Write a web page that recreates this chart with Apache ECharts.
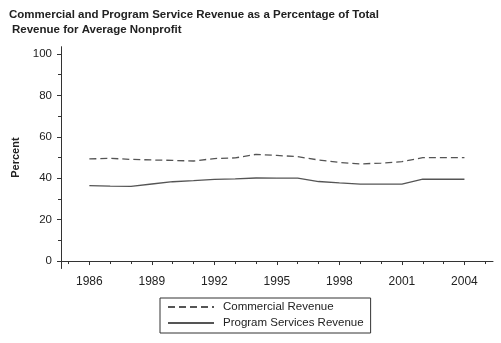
<!DOCTYPE html>
<html>
<head>
<meta charset="utf-8">
<script src="https://cdn.jsdelivr.net/npm/echarts@6/dist/echarts.min.js"></script>
<style>
  html, body { margin: 0; padding: 0; background: #fff; }
  #chart { width: 501px; height: 343px; }
</style>
</head>
<body>
<div id="chart"></div>
<script>
// Share of total revenue for the average nonprofit, by year
const years = [1986, 1987, 1988, 1989, 1990, 1991, 1992, 1993, 1994, 1995,
               1996, 1997, 1998, 1999, 2000, 2001, 2002, 2003, 2004];
const commercialRevenue = [49.3, 49.6, 49.1, 48.8, 48.6, 48.3, 49.5, 49.8, 51.5, 51.0,
                           50.4, 48.8, 47.6, 46.9, 47.3, 48.0, 49.9, 49.9, 49.9];
const programServicesRevenue = [36.4, 36.2, 36.1, 37.2, 38.3, 38.8, 39.4, 39.7, 40.1, 40.0,
                                40.0, 38.4, 37.7, 37.1, 37.1, 37.1, 39.5, 39.5, 39.5];

const xLabelYears = [1986, 1989, 1992, 1995, 1998, 2001, 2004];
const xMinorYears = [1985, 1987, 1988, 1990, 1991, 1993, 1994, 1996, 1997, 1999, 2000, 2002, 2003, 2005];
const yLabelValues = [0, 20, 40, 60, 80, 100];
const yMinorValues = [10, 30, 50, 70, 90];

const titleLine1 = 'Commercial and Program Service Revenue as a Percentage of Total';
const titleLine2 = 'Revenue for Average Nonprofit';

const ink = '#333';
const lineInk = '#555';
const font = 'Liberation Sans, Arial, sans-serif';

const xMin = 1984.64, xMax = 2005.37;
const yMin = -3.6, yMax = 103.5;

const chart = echarts.init(document.getElementById('chart'), null, { renderer: 'canvas' });

chart.setOption({
  backgroundColor: '#fff',
  animation: false,
  textStyle: { fontFamily: font },
  title: [
    { text: titleLine1, left: 9, top: 9, padding: 0,
      textStyle: { fontSize: 11.5, fontWeight: 'bold', color: '#222', fontFamily: font } },
    { text: titleLine2, left: 12, top: 24, padding: 0,
      textStyle: { fontSize: 11.5, fontWeight: 'bold', color: '#222', fontFamily: font } }
  ],
  grid: { left: 61, right: 8, top: 46.7, bottom: 74.5, containLabel: false },
  xAxis: [
    {
      type: 'value', min: xMin, max: xMax, position: 'bottom',
      axisLine: { show: true, lineStyle: { color: ink, width: 1 } },
      axisTick: { show: true, length: 4, customValues: xLabelYears, lineStyle: { color: ink } },
      axisLabel: { show: true, customValues: xLabelYears, margin: 7, color: '#222', fontSize: 12,
                   formatter: v => String(Math.round(v)) },
      splitLine: { show: false }
    },
    {
      type: 'value', min: xMin, max: xMax, position: 'bottom',
      axisLine: { show: false },
      axisTick: { show: true, length: 3, customValues: xMinorYears, lineStyle: { color: ink } },
      axisLabel: { show: false },
      splitLine: { show: false }
    }
  ],
  yAxis: [
    {
      type: 'value', min: yMin, max: yMax, position: 'left',
      name: 'Percent', nameLocation: 'middle', nameRotate: 90, nameGap: 38,
      nameTextStyle: { fontSize: 11, fontWeight: 'bold', color: '#222' },
      axisLine: { show: true, lineStyle: { color: ink, width: 1 } },
      axisTick: { show: true, length: 4, customValues: yLabelValues, lineStyle: { color: ink } },
      axisLabel: { show: true, customValues: yLabelValues, margin: 9, color: '#222', fontSize: 11.5 },
      splitLine: { show: false }
    },
    {
      type: 'value', min: yMin, max: yMax, position: 'left',
      axisLine: { show: false },
      axisTick: { show: true, length: 3, customValues: yMinorValues, lineStyle: { color: ink } },
      axisLabel: { show: false },
      splitLine: { show: false }
    }
  ],
  legend: {
    orient: 'vertical', left: 160, top: 298,
    borderColor: ink, borderWidth: 1, padding: [3, 7, 4, 7],
    itemWidth: 46, itemHeight: 12, itemGap: 4,
    itemStyle: { opacity: 0 },
    textStyle: { fontSize: 11.5, color: '#222', fontFamily: font, padding: [0, 0, 0, 4] },
    data: ['Commercial Revenue', 'Program Services Revenue']
  },
  series: [
    {
      name: 'Commercial Revenue', type: 'line', xAxisIndex: 0, yAxisIndex: 0,
      data: years.map((y, i) => [y, commercialRevenue[i]]),
      showSymbol: false, symbol: 'none', smooth: false,
      lineStyle: { color: lineInk, width: 1.3, type: [7, 4] },
      itemStyle: { color: lineInk }
    },
    {
      name: 'Program Services Revenue', type: 'line', xAxisIndex: 0, yAxisIndex: 0,
      data: years.map((y, i) => [y, programServicesRevenue[i]]),
      showSymbol: false, symbol: 'none', smooth: false,
      lineStyle: { color: lineInk, width: 1.3, type: 'solid' },
      itemStyle: { color: lineInk }
    }
  ]
});
</script>
</body>
</html>
